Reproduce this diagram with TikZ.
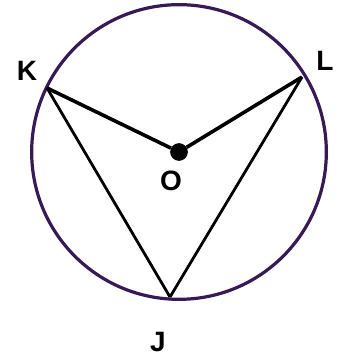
\documentclass[tikz,border=0pt]{standalone}
\usepackage{fontspec}
\setmainfont{Liberation Sans}
\usetikzlibrary{positioning}
\definecolor{rimcol}{RGB}{55,25,85}
\tikzset{
  rim/.style={draw=rimcol, line width=2.4pt},
  chord/.style={draw=black, line width=2.1pt},
  spoke/.style={draw=black, line width=2.7pt},
  ctr/.style={circle, fill=black, minimum size=13pt, inner sep=0pt},
  lbl/.style={font=\fontsize{21}{23}\selectfont\bfseries, inner sep=1pt}
}
\begin{document}
\begin{tikzpicture}[x=0.75pt, y=-0.75pt]
        \useasboundingbox (0,0) rectangle (341,359);
        \node[ctr] (o) at (179,152) {};
        \coordinate (k) at (47,88);
        \coordinate (l) at (302,77);
        \coordinate (j) at (170,297);
        \draw[rim] (o.center) circle[radius=110.5pt];
        \draw[chord] (k)--(j); \draw[chord] (l)--(j);
        \draw[spoke] (k)--(o); \draw[spoke] (l)--(o);
        \node[ctr] at (o.center) {};
        \node[lbl] (kl) at (27,71) {K};
        \node[lbl] (ll) at (325,61) {L};
        \node[lbl] (ol) at (171,181) {O};
        \node[lbl] (jl) at (158,342) {J};
      \end{tikzpicture}
\end{document}
